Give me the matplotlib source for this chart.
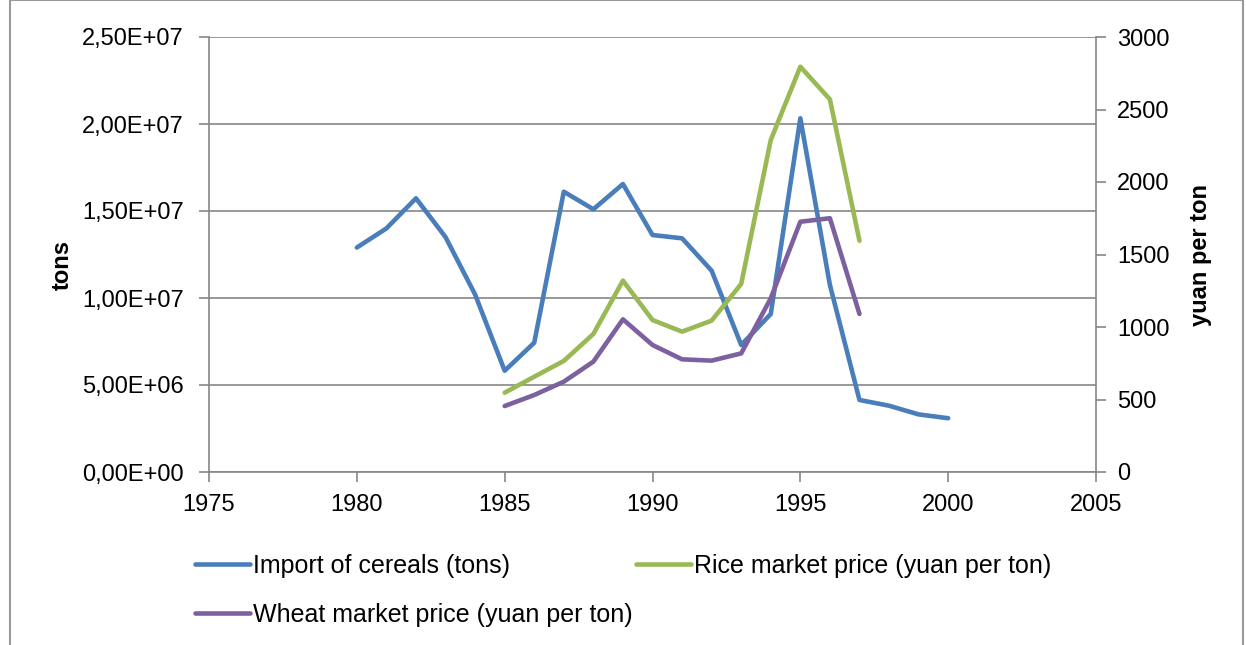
import matplotlib
matplotlib.use("Agg")
import matplotlib.pyplot as plt
from matplotlib.patches import Rectangle
from matplotlib.ticker import FuncFormatter

# data
years_import = list(range(1980, 2001))
import_tons = [1.29e7, 1.40e7, 1.573e7, 1.35e7, 1.02e7, 5.82e6, 7.43e6, 1.611e7, 1.51e7, 1.655e7,
               1.362e7, 1.343e7, 1.157e7, 7.30e6, 9.08e6, 2.033e7, 1.075e7, 4.14e6, 3.81e6, 3.31e6, 3.09e6]
years_price = list(range(1985, 1998))
rice_price = [547, 657, 766, 952, 1320, 1048, 968, 1044, 1297, 2290, 2795, 2570, 1595]
wheat_price = [455, 531, 623, 761, 1053, 876, 777, 768, 818, 1198, 1726, 1750, 1090]

label_import = "Import of cereals (tons)"
label_rice = "Rice market price (yuan per ton)"
label_wheat = "Wheat market price (yuan per ton)"

blue = "#4A7EBB"
green = "#98B954"
purple = "#7D60A0"
grey = "#868686"

font = ["Liberation Sans", "DejaVu Sans"]

W, H = 1246, 645
fig = plt.figure(figsize=(W / 100, H / 100), dpi=100)
ax = fig.add_axes([209 / W, 1 - 472 / H, (1096 - 209) / W, (472 - 37) / H])
ax2 = ax.twinx()

l1, = ax.plot(years_import, import_tons, color=blue, lw=3.3, solid_capstyle="round", zorder=3)
l2, = ax2.plot(years_price, rice_price, color=green, lw=3.3, solid_capstyle="round")
l3, = ax2.plot(years_price, wheat_price, color=purple, lw=3.3, solid_capstyle="round")

ax.set_xlim(1975, 2005)
ax.set_ylim(0, 2.5e7)
ax2.set_ylim(0, 3000)
ax.set_xticks(range(1975, 2006, 5))
ax.set_yticks([i * 5e6 for i in range(6)])
ax2.set_yticks(range(0, 3001, 500))
ax.yaxis.set_major_formatter(FuncFormatter(lambda v, p: ("%.2E" % v).replace(".", ",")))

ax.grid(axis="y", color=grey, lw=1.2)
ax.set_axisbelow(True)
for a in (ax, ax2):
    for s in a.spines.values():
        s.set_visible(False)
    a.tick_params(colors=grey, length=7, width=1.2, labelsize=17, labelcolor="black")
for s in (ax.spines["left"], ax.spines["bottom"], ax2.spines["right"]):
    s.set_visible(True)
    s.set_color(grey)
    s.set_linewidth(1.2)
for lab in ax.get_xticklabels() + ax.get_yticklabels() + ax2.get_yticklabels():
    lab.set_family(font)
ax.tick_params(axis="x", pad=9)
ax.tick_params(axis="y", pad=11)
ax2.tick_params(axis="y", pad=8)

fig.text(62 / W, 1 - 265 / H, "tons", rotation=90, ha="center", va="center", fontsize=17,
         fontweight="bold", family=font)
fig.text(1200 / W, 1 - 255 / H, "yuan per ton", rotation=90, ha="center", va="center", fontsize=17,
         fontweight="bold", family=font)

fig.legend([l1, l3, l2], [label_import, label_wheat, label_rice], ncol=2,
           loc="upper left", bbox_to_anchor=(195 / W, 1 - 554 / H), frameon=False,
           prop={"family": font, "size": 18}, handlelength=2.2, handletextpad=0.12,
           columnspacing=0.15, labelspacing=1.0, borderaxespad=0, borderpad=0)

fig.patches.append(Rectangle((10, -20), 1233, 7 + 20 + 638, transform=None, fill=False,
                             edgecolor="#9a9a9a", lw=1.5))

fig.savefig("out.png", dpi=100)
